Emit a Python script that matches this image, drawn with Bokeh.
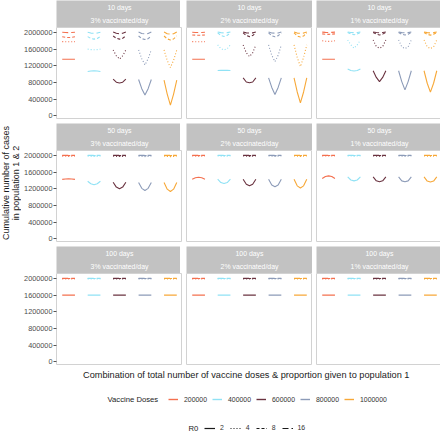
import math
from bokeh.plotting import figure
from bokeh.layouts import row, column
from bokeh.models import (Range1d, FixedTicker, NumeralTickFormatter, Legend,
                          LegendItem, Label)
from bokeh.embed import file_html
from bokeh.resources import INLINE

# ---------------- data ----------------
periods = ["10 days", "50 days", "100 days"]
rates = ["3% vaccinated/day", "2% vaccinated/day", "1% vaccinated/day"]
doses = ["200000", "400000", "600000", "800000", "1000000"]
r0_values = ["2", "4", "8", "16"]
proportion = [0.0, 0.25, 0.5, 0.75, 1.0]
y_ticks = [0, 400000, 800000, 1200000, 1600000, 2000000]

# cumulative cases (thousands): [dose][R0][proportion to population 1]
cases_10d_3pct = [
    [[1355, 1355, 1355, 1355, 1355], [1780, 1777, 1775, 1777, 1780], [1895, 1882, 1878, 1882, 1895], [2005, 1998, 1995, 1998, 2005]],
    [[1060, 1075, 1080, 1075, 1060], [1600, 1588, 1583, 1588, 1600], [1900, 1855, 1840, 1855, 1900], [2005, 1985, 1978, 1985, 2005]],
    [[880, 805, 785, 805, 880], [1580, 1440, 1360, 1440, 1580], [1915, 1860, 1840, 1860, 1915], [2010, 1980, 1970, 1980, 2010]],
    [[870, 650, 495, 650, 870], [1580, 1370, 1220, 1370, 1580], [1915, 1850, 1830, 1850, 1915], [2010, 1975, 1965, 1975, 2010]],
    [[855, 520, 256, 520, 855], [1580, 1330, 1157, 1330, 1580], [1915, 1845, 1820, 1845, 1915], [2010, 1970, 1960, 1970, 2010]],
]
cases_10d_2pct = [
    [[1355, 1355, 1355, 1355, 1355], [1780, 1778, 1777, 1778, 1780], [1940, 1935, 1932, 1935, 1940], [2005, 2000, 1998, 2000, 2005]],
    [[1085, 1088, 1090, 1088, 1085], [1700, 1610, 1580, 1610, 1700], [1990, 1930, 1905, 1930, 1990], [2010, 1995, 1990, 1995, 2010]],
    [[910, 810, 790, 810, 910], [1700, 1510, 1420, 1510, 1700], [1990, 1925, 1900, 1925, 1990], [2010, 1990, 1985, 1990, 2010]],
    [[910, 680, 510, 680, 910], [1700, 1450, 1300, 1450, 1700], [1990, 1920, 1895, 1920, 1990], [2010, 1988, 1982, 1988, 2010]],
    [[910, 570, 310, 570, 910], [1700, 1400, 1180, 1400, 1700], [1990, 1915, 1890, 1915, 1990], [2010, 1985, 1980, 1985, 2010]],
]
cases_10d_1pct = [
    [[1355, 1355, 1355, 1355, 1355], [1800, 1790, 1786, 1790, 1800], [1965, 1958, 1955, 1958, 1965], [2008, 2002, 2000, 2002, 2008]],
    [[1120, 1085, 1075, 1085, 1120], [1820, 1700, 1620, 1700, 1820], [2000, 1965, 1945, 1965, 2000], [2010, 2000, 1995, 2000, 2010]],
    [[1080, 920, 820, 920, 1080], [1820, 1660, 1620, 1660, 1820], [2000, 1960, 1940, 1960, 2000], [2010, 1998, 1993, 1998, 2010]],
    [[1080, 820, 620, 820, 1080], [1820, 1655, 1610, 1655, 1820], [2000, 1958, 1938, 1958, 2000], [2010, 1996, 1992, 1996, 2010]],
    [[1080, 780, 566, 780, 1080], [1820, 1655, 1610, 1655, 1820], [2000, 1956, 1936, 1956, 2000], [2010, 1995, 1990, 1995, 2010]],
]
cases_50d_3pct = [
    [[1425, 1436, 1440, 1436, 1425], [1985, 1980, 1978, 1980, 1985], [2000, 1998, 1997, 1998, 2000], [2005, 2003, 2002, 2003, 2005]],
    [[1380, 1320, 1295, 1320, 1380], [1985, 1978, 1975, 1978, 1985], [2000, 1997, 1996, 1997, 2000], [2005, 2003, 2002, 2003, 2005]],
    [[1357, 1240, 1200, 1240, 1357], [1985, 1977, 1974, 1977, 1985], [2000, 1997, 1996, 1997, 2000], [2005, 2003, 2002, 2003, 2005]],
    [[1350, 1210, 1160, 1210, 1350], [1985, 1977, 1973, 1977, 1985], [2000, 1997, 1995, 1997, 2000], [2005, 2003, 2002, 2003, 2005]],
    [[1350, 1190, 1135, 1190, 1350], [1985, 1976, 1972, 1976, 1985], [2000, 1996, 1995, 1996, 2000], [2005, 2003, 2002, 2003, 2005]],
]
cases_50d_2pct = [
    [[1430, 1465, 1476, 1465, 1430], [1988, 1984, 1982, 1984, 1988], [2000, 1998, 1997, 1998, 2000], [2005, 2003, 2002, 2003, 2005]],
    [[1430, 1350, 1326, 1350, 1430], [1988, 1982, 1980, 1982, 1988], [2000, 1998, 1997, 1998, 2000], [2005, 2003, 2002, 2003, 2005]],
    [[1430, 1310, 1270, 1310, 1430], [1988, 1981, 1979, 1981, 1988], [2000, 1997, 1996, 1997, 2000], [2005, 2003, 2002, 2003, 2005]],
    [[1430, 1290, 1250, 1290, 1430], [1988, 1981, 1978, 1981, 1988], [2000, 1997, 1996, 1997, 2000], [2005, 2003, 2002, 2003, 2005]],
    [[1430, 1270, 1220, 1270, 1430], [1988, 1980, 1977, 1980, 1988], [2000, 1997, 1995, 1997, 2000], [2005, 2003, 2002, 2003, 2005]],
]
cases_50d_1pct = [
    [[1445, 1495, 1510, 1495, 1445], [1990, 1987, 1986, 1987, 1990], [2000, 1999, 1998, 1999, 2000], [2005, 2003, 2002, 2003, 2005]],
    [[1485, 1410, 1390, 1410, 1485], [1990, 1986, 1984, 1986, 1990], [2000, 1998, 1997, 1998, 2000], [2005, 2003, 2002, 2003, 2005]],
    [[1485, 1390, 1367, 1390, 1485], [1990, 1985, 1983, 1985, 1990], [2000, 1998, 1997, 1998, 2000], [2005, 2003, 2002, 2003, 2005]],
    [[1485, 1390, 1370, 1390, 1485], [1990, 1985, 1983, 1985, 1990], [2000, 1998, 1997, 1998, 2000], [2005, 2003, 2002, 2003, 2005]],
    [[1485, 1385, 1360, 1385, 1485], [1990, 1985, 1982, 1985, 1990], [2000, 1998, 1997, 1998, 2000], [2005, 2003, 2002, 2003, 2005]],
]
cases_100d_3pct = [
    [[1600, 1600, 1600, 1600, 1600], [1990, 1990, 1990, 1990, 1990], [1998, 1998, 1998, 1998, 1998], [2003, 2003, 2003, 2003, 2003]],
    [[1600, 1600, 1600, 1600, 1600], [1990, 1990, 1990, 1990, 1990], [1998, 1998, 1998, 1998, 1998], [2003, 2003, 2003, 2003, 2003]],
    [[1600, 1600, 1600, 1600, 1600], [1990, 1990, 1990, 1990, 1990], [1998, 1998, 1998, 1998, 1998], [2003, 2003, 2003, 2003, 2003]],
    [[1600, 1600, 1600, 1600, 1600], [1990, 1990, 1990, 1990, 1990], [1998, 1998, 1998, 1998, 1998], [2003, 2003, 2003, 2003, 2003]],
    [[1600, 1600, 1600, 1600, 1600], [1990, 1990, 1990, 1990, 1990], [1998, 1998, 1998, 1998, 1998], [2003, 2003, 2003, 2003, 2003]],
]
cases_100d_2pct = [
    [[1600, 1600, 1600, 1600, 1600], [1990, 1990, 1990, 1990, 1990], [1998, 1998, 1998, 1998, 1998], [2003, 2003, 2003, 2003, 2003]],
    [[1600, 1600, 1600, 1600, 1600], [1990, 1990, 1990, 1990, 1990], [1998, 1998, 1998, 1998, 1998], [2003, 2003, 2003, 2003, 2003]],
    [[1600, 1600, 1600, 1600, 1600], [1990, 1990, 1990, 1990, 1990], [1998, 1998, 1998, 1998, 1998], [2003, 2003, 2003, 2003, 2003]],
    [[1600, 1600, 1600, 1600, 1600], [1990, 1990, 1990, 1990, 1990], [1998, 1998, 1998, 1998, 1998], [2003, 2003, 2003, 2003, 2003]],
    [[1600, 1600, 1600, 1600, 1600], [1990, 1990, 1990, 1990, 1990], [1998, 1998, 1998, 1998, 1998], [2003, 2003, 2003, 2003, 2003]],
]
cases_100d_1pct = [
    [[1600, 1600, 1600, 1600, 1600], [1990, 1990, 1990, 1990, 1990], [1998, 1998, 1998, 1998, 1998], [2003, 2003, 2003, 2003, 2003]],
    [[1600, 1600, 1600, 1600, 1600], [1990, 1990, 1990, 1990, 1990], [1998, 1998, 1998, 1998, 1998], [2003, 2003, 2003, 2003, 2003]],
    [[1600, 1600, 1600, 1600, 1600], [1990, 1990, 1990, 1990, 1990], [1998, 1998, 1998, 1998, 1998], [2003, 2003, 2003, 2003, 2003]],
    [[1600, 1600, 1600, 1600, 1600], [1990, 1990, 1990, 1990, 1990], [1998, 1998, 1998, 1998, 1998], [2003, 2003, 2003, 2003, 2003]],
    [[1600, 1600, 1600, 1600, 1600], [1990, 1990, 1990, 1990, 1990], [1998, 1998, 1998, 1998, 1998], [2003, 2003, 2003, 2003, 2003]],
]

panel_data = [
    [cases_10d_3pct, cases_10d_2pct, cases_10d_1pct],
    [cases_50d_3pct, cases_50d_2pct, cases_50d_1pct],
    [cases_100d_3pct, cases_100d_2pct, cases_100d_1pct],
]

# ---------------- style ----------------
FONT = "Liberation Sans"
DOSE_COLORS = ["#F4704F", "#90E2F5", "#6A3340", "#8C9BB8", "#F7A838"]
R0_DASH = ["solid", "1 2", "3 2", "6 3"]
STRIP = "#C2C2C2"
BORDER = "#D2D2D2"

YT_W = 21
AX_W = 33
GAP = 4
FW = 126
STRIP_H = 27
FH = 92
COL_H = 3 * (STRIP_H + FH) + 2 * GAP
TOTAL_W = YT_W + AX_W + 3 * FW + 2 * GAP
FOOT_H = 67


def base_fig(fw, fh, left=0, top=0, **kw):
    f = figure(frame_width=fw, frame_height=fh, toolbar_location=None,
               output_backend="svg", min_border_left=left, min_border_right=0,
               min_border_top=top, min_border_bottom=0,
               border_fill_color="white", **kw)
    return f


def no_grid(f):
    for g in f.grid:
        g.visible = False


def strip_fig(r, c):
    s = base_fig(FW, STRIP_H, left=(AX_W if c == 0 else GAP), top=(0 if r == 0 else GAP),
                 x_range=Range1d(0, 1), y_range=Range1d(0, 1),
                 x_axis_location=None, y_axis_location=None,
                 background_fill_color=STRIP, outline_line_color=None)
    no_grid(s)
    for txt, yy in ((periods[r], 20.0), (rates[c], 7.0)):
        s.add_layout(Label(x=FW / 2, y=yy, x_units="screen", y_units="screen", text=txt,
                           text_align="center", text_baseline="middle",
                           text_color="white", text_font_size="6.9px", text_font=FONT))
    return s


def body_fig(r, c):
    p = base_fig(FW, FH, left=(AX_W if c == 0 else GAP),
                 x_range=Range1d(-0.225, 4.725), y_range=Range1d(-91000, 2119000),
                 x_axis_location=None, y_axis_location=("left" if c == 0 else None),
                 background_fill_color="white", outline_line_color=BORDER,
                 outline_line_width=1)
    no_grid(p)
    if c == 0:
        ax = p.yaxis[0]
        ax.ticker = FixedTicker(ticks=y_ticks)
        ax.formatter = NumeralTickFormatter(format="0")
        ax.axis_line_color = None
        ax.major_tick_out = 3
        ax.major_tick_in = 0
        ax.minor_tick_out = 0
        ax.minor_tick_in = 0
        ax.major_tick_line_color = "#555555"
        ax.major_label_standoff = 1
        ax.major_label_text_font = FONT
        ax.major_label_text_font_size = "7.3px"
        ax.major_label_text_color = "#4D4D4D"
    data = panel_data[r][c]
    for di in range(len(doses)):
        xs = [di + 0.5 * pr for pr in proportion]
        for ri in range(len(r0_values)):
            ys = [v * 1000 for v in data[di][ri]]
            p.line(xs, ys, line_color=DOSE_COLORS[di], line_width=1.1,
                   line_dash=R0_DASH[ri])
    return p


cols = []
for c in range(3):
    kids = []
    for r in range(3):
        kids.append(strip_fig(r, c))
        kids.append(body_fig(r, c))
    cols.append(column(*kids, spacing=0))

# y-axis title
yt = base_fig(YT_W, COL_H, x_range=Range1d(0, 1), y_range=Range1d(0, 1),
              x_axis_location=None, y_axis_location=None, outline_line_color=None)
no_grid(yt)
for txt, xx in (("Cumulative number of cases", 5.5), ("in population 1 & 2", 15.5)):
    yt.add_layout(Label(x=xx, y=COL_H / 2, x_units="screen", y_units="screen", text=txt,
                        angle=math.pi / 2, text_align="center", text_baseline="middle",
                        text_font=FONT, text_font_size="9px", text_color="#1A1A1A"))

# footer: x title + legends
foot = base_fig(TOTAL_W, FOOT_H, x_range=Range1d(0, 1), y_range=Range1d(0, 1),
                x_axis_location=None, y_axis_location=None, outline_line_color=None)
no_grid(foot)
foot.add_layout(Label(x=YT_W + AX_W + (3 * FW + 2 * GAP) / 2, y=58, x_units="screen",
                      y_units="screen",
                      text="Combination of total number of vaccine doses &  proportion given to population 1",
                      text_align="center", text_baseline="middle", text_font=FONT,
                      text_font_size="9.2px", text_color="#1A1A1A"))

# legend proxies: lines kept below the visible footer range
dose_items = []
for di, d in enumerate(doses):
    rr = foot.line(x=[0, 1], y=[-5, -5], line_color=DOSE_COLORS[di], line_width=1.4)
    dose_items.append(LegendItem(label=d, renderers=[rr]))
r0_items = []
for ri, r0 in enumerate(r0_values):
    rr = foot.line(x=[0, 1], y=[-5, -5], line_color="#1A1A1A", line_width=1.2,
                   line_dash=R0_DASH[ri])
    r0_items.append(LegendItem(label=r0, renderers=[rr]))

common = dict(orientation="horizontal", padding=0, margin=0, glyph_height=8,
              label_height=8, label_width=0, label_text_font=FONT,
              label_text_font_size="6.9px", label_text_color="#333333",
              border_line_color=None, background_fill_alpha=0)
leg1 = Legend(items=dose_items, location=(168, 29), spacing=5, glyph_width=10,
              label_standoff=6, **common)
leg2 = Legend(items=r0_items, location=(204, 0.5), spacing=6, glyph_width=11,
              label_standoff=5, **common)
foot.add_layout(leg1)
foot.add_layout(leg2)
foot.add_layout(Label(x=107, y=33, x_units="screen", y_units="screen", text="Vaccine Doses",
                      text_align="left", text_baseline="middle", text_font=FONT,
                      text_font_size="7.7px", text_color="#1A1A1A"))
foot.add_layout(Label(x=188, y=4.5, x_units="screen", y_units="screen", text="R0",
                      text_align="left", text_baseline="middle", text_font=FONT,
                      text_font_size="7.7px", text_color="#1A1A1A"))

layout = column(row(yt, *cols, spacing=0), foot, spacing=0)

open("out.html", "w").write(file_html(layout, INLINE))
